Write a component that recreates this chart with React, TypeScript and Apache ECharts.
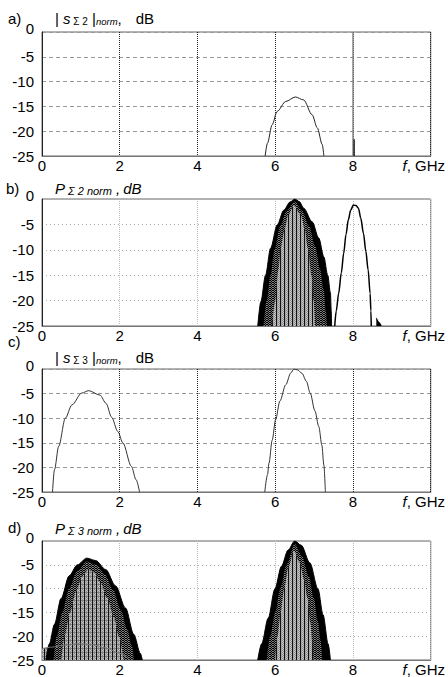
import React, { useEffect, useRef } from 'react';
import * as echarts from 'echarts';

const FONT = '"Liberation Sans", Arial, Helvetica, sans-serif';

// axes
const xMin = 0, xMax = 10, xStep = 2;
const yMin = -25, yMax = 0, yStep = 5;

// panel a) |s_Σ2|norm
const aCurveF = [5.74, 5.8, 5.92, 6.05, 6.27, 6.52, 6.73, 6.95, 7.08, 7.21, 7.25];
const aCurveDb = [-25, -22.4, -18.7, -16.0, -14.0, -13.1, -13.7, -16.7, -19.3, -22.7, -25];
const aSpikeF = [8.0, 8.0];
const aSpikeDb = [0, -25];
const aStubF = [8.03, 8.03];
const aStubDb = [-21.6, -25];

// panel b) P_Σ2 norm (family of curves: outer envelope, dithered band, hatched core)
const bOuterF = [5.55, 5.63, 5.75, 5.88, 6.05, 6.22, 6.38, 6.5, 6.62, 6.73, 6.95, 7.12, 7.25, 7.35, 7.42, 7.44, 7.45];
const bOuterDb = [-25, -20.2, -15, -9.7, -5.1, -2.2, -0.6, 0, -0.5, -1.8, -4.5, -7.7, -11.4, -15, -18.5, -22, -25];
const bMidF = [5.7, 5.78, 5.88, 5.98, 6.13, 6.29, 6.5, 6.69, 6.87, 7.03, 7.15, 7.25, 7.3, 7.33];
const bMidDb = [-25, -20, -15, -10, -5.3, -2.3, -0.5, -2.3, -5.3, -9.3, -13.8, -18, -22, -25];
const bCoreF = [5.92, 6.0, 6.08, 6.14, 6.24, 6.33, 6.48, 6.66, 6.76, 6.84, 6.93, 6.99, 7.02];
const bCoreDb = [-25, -20, -14, -9.7, -6, -3.2, -1.3, -3.2, -6, -9.7, -15, -20, -25];
const bSecondF = [7.53, 7.57, 7.63, 7.7, 7.76, 7.82, 7.88, 7.94, 8.01, 8.08, 8.14, 8.2, 8.27, 8.33, 8.39, 8.44, 8.46, 8.47];
const bSecondDb = [-25, -22, -18.6, -14.5, -10.7, -7, -4.1, -2.2, -1.2, -1.3, -1.8, -3.8, -6.8, -10.3, -14, -18.6, -22, -25];
const bTailF = [8.6, 8.66, 8.73];
const bTailDb = [-23.4, -24.2, -25];

// panel c) |s_Σ3|norm
const cLeftF = [0.27, 0.32, 0.43, 0.6, 0.77, 1.02, 1.2, 1.49, 1.65, 1.79, 1.95, 2.08, 2.3, 2.42, 2.51];
const cLeftDb = [-25, -20.5, -15.7, -10, -7.3, -4.9, -4.4, -5.3, -7, -9.8, -12.7, -15, -19.8, -22.5, -25];
const cRightF = [5.73, 5.8, 5.84, 5.92, 6.01, 6.12, 6.27, 6.4, 6.48, 6.58, 6.69, 6.8, 6.9, 7.02, 7.12, 7.2, 7.25, 7.29];
const cRightDb = [-25, -21.5, -19.1, -14.5, -10.3, -6.5, -3.2, -0.8, 0, -0.2, -0.9, -2.5, -4.9, -8.5, -11.7, -15.5, -19.5, -25];

// panel d) P_Σ3 norm
const dLeftOuterF = [0.1, 0.19, 0.32, 0.49, 0.7, 0.91, 1.15, 1.38, 1.64, 1.89, 2.15, 2.36, 2.53, 2.58];
const dLeftOuterDb = [-25, -21.6, -17.5, -12.1, -7.3, -5.0, -3.6, -4.1, -6.0, -9.4, -14.1, -19.6, -23.6, -25];
const dLeftMidF = [0.3, 0.38, 0.52, 0.7, 0.9, 1.15, 1.4, 1.62, 1.83, 2.03, 2.19, 2.31, 2.37];
const dLeftMidDb = [-25, -20, -15, -10, -6.4, -4.3, -5.0, -7.1, -10.3, -14.5, -18.5, -22, -25];
const dLeftCoreF = [0.5, 0.58, 0.72, 0.88, 1.04, 1.18, 1.33, 1.5, 1.68, 1.85, 1.98, 2.1];
const dLeftCoreDb = [-25, -20, -15, -10.5, -7.3, -6.0, -6.5, -8.6, -12, -16, -20, -25];
const dLowArcF = [0, 0.25, 0.55, 0.95, 1.3, 1.65, 2.0, 2.25];
const dLowArcDb = [-22.6, -22.3, -21.9, -21.6, -21.8, -22.5, -23.6, -25];
const dRightOuterF = [5.55, 5.65, 5.82, 5.99, 6.16, 6.33, 6.5, 6.67, 6.89, 7.1, 7.23, 7.36, 7.42];
const dRightOuterDb = [-25, -21.6, -16.2, -10.1, -5.3, -1.9, 0, -0.9, -4.6, -10.1, -15.5, -21.6, -25];
const dRightMidF = [5.78, 5.87, 6.0, 6.13, 6.29, 6.5, 6.69, 6.87, 6.99, 7.1, 7.17, 7.21];
const dRightMidDb = [-25, -20, -15, -10, -5, -0.6, -3.3, -7.5, -12, -17, -21, -25];
const dRightCoreF = [6.0, 6.06, 6.14, 6.23, 6.34, 6.48, 6.63, 6.74, 6.83, 6.9, 6.95, 6.98];
const dRightCoreDb = [-25, -20, -15, -10, -5.5, -2.0, -4.5, -8, -12, -17, -21, -25];

const zip = (f: number[], v: number[]) => f.map((x, i) => [x, v[i]]);

function tile(rows: string[][]) {
  const h = rows.length, w = rows[0].length;
  const c = document.createElement('canvas');
  c.width = w; c.height = h;
  const ctx = c.getContext('2d')!;
  rows.forEach((r, y) => r.forEach((col, x) => { ctx.fillStyle = col; ctx.fillRect(x, y, 1, 1); }));
  return { image: c, repeat: 'repeat', imageWidth: w, imageHeight: h };
}

const grids = [
  { top: 32, height: 124 },
  { top: 199, height: 127 },
  { top: 369, height: 123 },
  { top: 541, height: 122 },
];

export default function App() {
  const ref = useRef<HTMLDivElement>(null);
  useEffect(() => {
    const chart = echarts.init(ref.current!, undefined, { renderer: 'svg' });
    const midPat = tile([
      ['#000', '#707070', '#000'],
      ['#707070', '#000', '#8a8a8a'],
    ]);
    const corePat = tile([
      ['#111', '#b4b4b4', '#8a8a8a', '#c4c4c4'],
      ['#111', '#9a9a9a', '#cacaca', '#909090'],
    ]);
    const coreGridPat = tile([
      ['#111', '#808080', '#808080', '#808080'],
      ['#111', '#b4b4b4', '#8a8a8a', '#c4c4c4'],
      ['#111', '#9a9a9a', '#cacaca', '#909090'],
      ['#111', '#b4b4b4', '#8a8a8a', '#c4c4c4'],
    ]);

    const dark = [0, 2];
    const xAxes = grids.map((_, i) => ({
      type: 'value', gridIndex: i, min: xMin, max: xMax, interval: xStep,
      axisLine: { show: true, onZero: false, lineStyle: { color: '#777', width: 1 } },
      axisTick: { show: false },
      splitLine: {
        show: true,
        lineStyle: dark.includes(i)
          ? { color: '#222', type: [1, 1], width: 1 }
          : { color: '#bbb', type: [1, 1], width: 1 },
      },
      axisLabel: {
        margin: 2, fontSize: 15, color: '#000', fontFamily: FONT,
        showMinLabel: true, showMaxLabel: true,
        formatter: (v: number) => (v === xMax ? '{it|f}{n|, GHz}' : String(v)),
        rich: {
          it: { fontStyle: 'italic', fontSize: 15, fontFamily: FONT, color: '#000' },
          n: { fontSize: 15, fontFamily: FONT, color: '#000', padding: [0, 14, 0, 0] },
        },
      },
    }));
    const yAxes = grids.map((_, i) => ({
      type: 'value', gridIndex: i, min: yMin, max: yMax, interval: yStep,
      axisLine: { show: true, onZero: false, lineStyle: { color: '#222', width: 1 } },
      axisTick: { show: false },
      splitLine: {
        show: true,
        lineStyle: dark.includes(i)
          ? { color: '#999', type: [4, 3], width: 1 }
          : { color: '#aaa', type: [1, 3], width: 1 },
      },
      axisLabel: {
        margin: 8, fontSize: 15, color: '#000', fontFamily: FONT,
        formatter: (v: number) => (v === 0 ? '{up|0}' : String(v)),
        rich: { up: { fontSize: 15, fontFamily: FONT, color: '#000', padding: [0, 0, 8, 0] } },
      },
    }));

    const line = (g: number, data: number[][], color: string, width = 1, smooth: number | boolean = 0.3) => ({
      type: 'line', xAxisIndex: g, yAxisIndex: g, data, symbol: 'none', silent: true,
      smooth, smoothMonotone: 'x', lineStyle: { color, width },
    });
    const area = (g: number, data: number[][], fill: any, lineColor: string, lineWidth: number) => ({
      ...line(g, data, lineColor, lineWidth),
      areaStyle: { origin: 'start', color: fill, opacity: 1 },
    });

    const series: any[] = [
      // a
      line(0, zip(aSpikeF, aSpikeDb), '#888', 1.5, false),
      line(0, zip(aStubF, aStubDb), '#000', 1.2, false),
      line(0, zip(aCurveF, aCurveDb), '#222', 1),
      // b
      area(1, zip(bOuterF, bOuterDb), '#000', '#000', 1),
      area(1, zip(bMidF, bMidDb), midPat, '#000', 0),
      area(1, zip(bCoreF, bCoreDb), corePat, '#000', 0),
      line(1, zip(bSecondF, bSecondDb), '#000', 1.5),
      area(1, zip(bTailF, bTailDb), '#000', '#000', 1),
      // c
      line(2, zip(cLeftF, cLeftDb), '#333', 1),
      line(2, zip(cRightF, cRightDb), '#333', 1),
      // d
      area(3, zip(dLowArcF, dLowArcDb), coreGridPat, '#888', 0),
      area(3, zip(dLeftOuterF, dLeftOuterDb), '#000', '#000', 1),
      area(3, zip(dLeftMidF, dLeftMidDb), midPat, '#000', 0),
      area(3, zip(dLeftCoreF, dLeftCoreDb), coreGridPat, '#000', 0),
      line(3, zip(dLowArcF, dLowArcDb), '#777', 1),
      area(3, zip(dRightOuterF, dRightOuterDb), '#000', '#000', 1),
      area(3, zip(dRightMidF, dRightMidDb), midPat, '#000', 0),
      area(3, zip(dRightCoreF, dRightCoreDb), corePat, '#000', 0),
    ];

    const txt = (x: number, y: number, text: string, rich: any) => ({
      type: 'text', x, y, silent: true,
      style: { text, rich, fill: '#000', font: `15px ${FONT}`, verticalAlign: 'middle', textAlign: 'left' },
    });
    const base = { fontSize: 15, fontFamily: FONT, fill: '#000', lineHeight: 16 };
    const richS = {
      n: { ...base },
      i: { ...base, fontStyle: 'italic' },
      sub: { fontSize: 10, fontFamily: FONT, fill: '#000', lineHeight: 10, verticalAlign: 'bottom' },
      subi: { fontSize: 9.5, fontFamily: FONT, fill: '#000', fontStyle: 'italic', lineHeight: 10, verticalAlign: 'bottom' },
      db: { ...base, padding: [0, 0, 0, 14] },
    };
    const richP = {
      i: { ...base, fontStyle: 'italic' },
      subi: { fontSize: 11, fontFamily: FONT, fill: '#000', fontStyle: 'italic', lineHeight: 10, verticalAlign: 'bottom' },
      dbi: { ...base, fontStyle: 'italic', padding: [0, 0, 0, 3] },
    };
    const plain = { n: { ...base } };

    chart.setOption({
      animation: false,
      textStyle: { fontFamily: FONT },
      grid: grids.map((g) => ({
        left: 42, width: 391, top: g.top, height: g.height,
        show: true, borderColor: '#666', borderWidth: 1, backgroundColor: 'transparent',
      })),
      xAxis: xAxes,
      yAxis: yAxes,
      series,
      graphic: [
        txt(8, 18, '{n|a)}', plain),
        txt(55, 18, '{n||}{n| }{i|s}{sub| Σ 2}{n| |}{subi|norm}{n|,}{db|dB}', richS),
        txt(6, 188, '{n|b)}', plain),
        txt(55, 188, '{i|P}{subi| Σ 2 norm}{i| ,}{dbi|dB}', richP),
        txt(8, 341, '{n|c)}', plain),
        txt(55, 357, '{n||}{n| }{i|s}{sub| Σ 3}{n| |}{subi|norm}{n|,}{db|dB}', richS),
        txt(8, 527, '{n|d)}', plain),
        txt(55, 528, '{i|P}{subi| Σ 3 norm}{i| ,}{dbi|dB}', richP),
      ],
    });
    return () => chart.dispose();
  }, []);
  return (
    <div
      ref={ref}
      style={{ position: 'fixed', left: 0, top: 0, width: 448, height: 677, background: '#fff' }}
    />
  );
}
